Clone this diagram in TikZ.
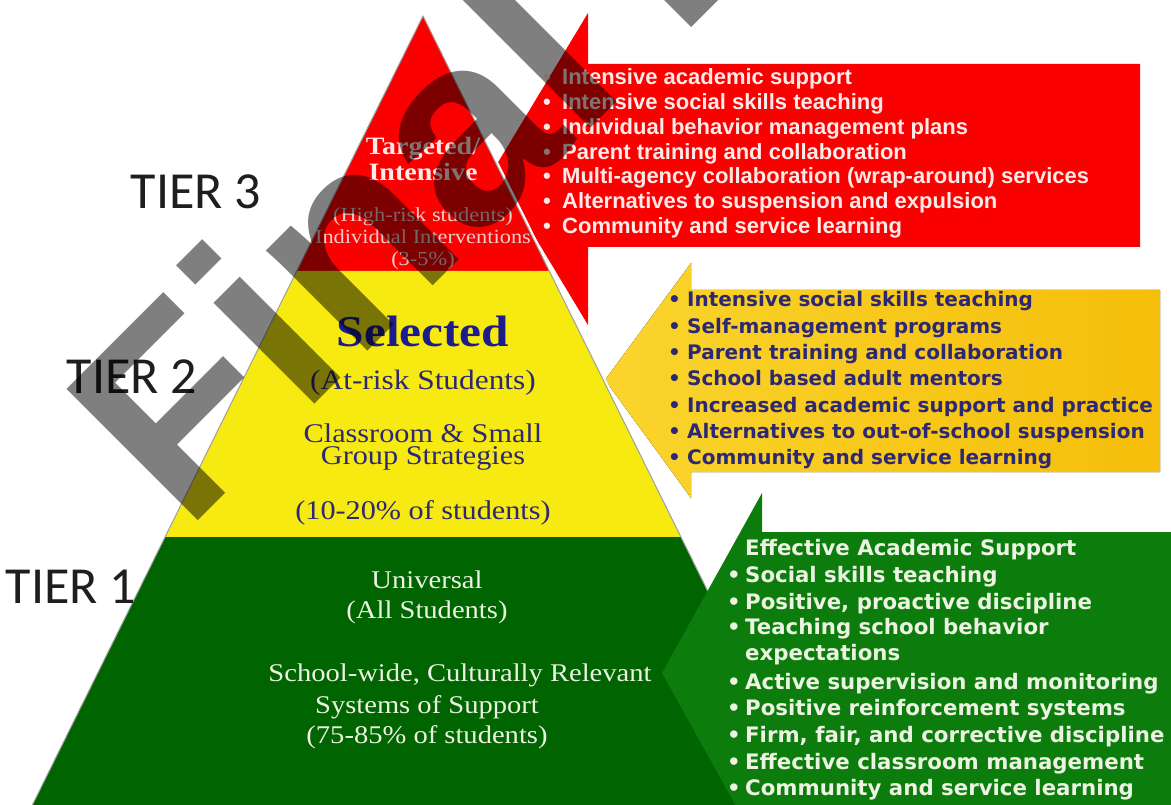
\documentclass[tikz,border=0pt]{standalone}
\usepackage{fontspec}
\setmainfont{Liberation Serif}
\newfontfamily\pyrfont{Liberation Serif}[FakeStretch=1.12]
\newfontfamily\arialfont{Liberation Sans}
\newfontfamily\verdfont{DejaVu Sans}
\newfontfamily\tierfont{Carlito}
\definecolor{pred}{RGB}{250,0,0}
\definecolor{pyel}{RGB}{246,234,16}
\definecolor{pgrn}{RGB}{0,100,0}
\definecolor{ared}{RGB}{250,0,0}
\definecolor{ayelL}{RGB}{250,212,45}
\definecolor{ayelR}{RGB}{245,190,10}
\definecolor{agrn}{RGB}{12,125,12}
\definecolor{navy}{RGB}{28,28,140}
\definecolor{navytxt}{RGB}{45,40,115}
\definecolor{pinkw}{RGB}{255,234,234}
\definecolor{pinkg}{RGB}{238,205,205}
\definecolor{greenw}{RGB}{236,243,226}
\definecolor{tiergray}{RGB}{30,30,30}
\tikzset{
  redlist/.style={anchor=base west, inner sep=0, text=pinkw, font=\arialfont\bfseries\fontsize{22}{22}\selectfont},
  yellist/.style={anchor=base west, inner sep=0, text=navytxt, font=\verdfont\bfseries\fontsize{20}{20}\selectfont},
  grnlist/.style={anchor=base west, inner sep=0, text=greenw, font=\verdfont\bfseries\fontsize{21.3}{21.3}\selectfont},
  tierlabel/.style={anchor=base, inner sep=0, text=tiergray, font=\tierfont\fontsize{52}{52}\selectfont},
  pyrtext/.style={anchor=base, inner sep=0, font=\pyrfont\fontsize{#1}{#1}\selectfont},
  pyrbold/.style={anchor=base, inner sep=0, font=\pyrfont\bfseries\fontsize{#1}{#1}\selectfont},
  wmark/.style={rotate=45, anchor=base west, inner sep=0, text=black, text opacity=0.5, font=\arialfont\bfseries\fontsize{270}{270}\selectfont}
}
\begin{document}
\begin{tikzpicture}[x=1pt, y=-1pt]
\useasboundingbox (0,0) rectangle (1171,805);
\fill[white] (0,0) rectangle (1171,805);

% arrows behind the pyramid
\fill[ared] (588,13) -- (494,169) -- (588,325) -- (588,247) -- (1140,247) -- (1140,64) -- (588,64) -- cycle;
\fill[left color=ayelL, right color=ayelR] (691,263) -- (605,380) -- (691,498) -- (691,472) -- (1160,472) -- (1160,290) -- (691,290) -- cycle;

% pyramid
\coordinate (apex) at (423,16);
\coordinate (bl) at (32.4,805);
\coordinate (br) at (813.6,805);
\draw[white, line width=5pt, line join=round] (bl) -- (apex) -- (br);
\fill[pred] (apex) -- (549.2,271) -- (296.8,271) -- cycle;
\fill[pyel] (296.8,271) -- (549.2,271) -- (680.9,537) -- (165.1,537) -- cycle;
\fill[pgrn] (165.1,537) -- (680.9,537) -- (br) -- (bl) -- cycle;
\draw[gray!75, line width=1pt, line join=round] (bl) -- (apex) -- (br);

% green arrow (over the pyramid)
\fill[agrn] (762,493) -- (662,673) -- (762,853) -- (1200,853) -- (1200,532) -- (762,532) -- cycle;

% tier labels
\node[tierlabel] (t3) at (196,209) {TIER 3};
\node[tierlabel] (t2) at (132,393) {TIER 2};
\node[tierlabel] (t1) at (71,603) {TIER 1};

% red tier text
\node[pyrbold=25, text=pinkw] (r1) at (423,155) {Targeted/};
\node[pyrbold=25, text=pinkw] (r2) at (423,181) {Intensive};
\node[pyrtext=20, text=pinkg] (r3) at (423,222) {(High-risk students)};
\node[pyrtext=20, text=pinkg] (r4) at (423,244) {Individual Interventions};
\node[pyrtext=20, text=pinkg] (r5) at (423,266) {(3-5\%)};

% yellow tier text
\node[pyrbold=44, text=navy] (y1) at (423,347) {Selected};
\node[pyrtext=28, text=navytxt] (y2) at (423,389) {(At-risk Students)};
\node[pyrtext=27, text=navytxt] (y3) at (423,442) {Classroom \& Small};
\node[pyrtext=27, text=navytxt] (y4) at (423,464) {Group Strategies};
\node[pyrtext=27, text=navytxt] (y5) at (423,519) {(10-20\% of students)};

% green tier text
\node[pyrtext=25.5, text=greenw] (g1) at (427,588) {Universal};
\node[pyrtext=25.5, text=greenw] (g2) at (427,618) {(All Students)};
\node[pyrtext=25.5, text=greenw] (g3) at (460,681) {School-wide, Culturally Relevant};
\node[pyrtext=25.5, text=greenw] (g4) at (427,713) {Systems of Support};
\node[pyrtext=25.5, text=greenw] (g5) at (427,743) {(75-85\% of students)};

% red list
\foreach \t [count=\i, evaluate=\i as \yy using {85+24.67*(\i-1)}] in
  {Intensive academic support, Intensive social skills teaching, Individual behavior management plans, Parent training and collaboration, Multi-agency collaboration (wrap-around) services, Alternatives to suspension and expulsion, Community and service learning}
  \node[redlist] (rl\i) at (543,\yy) {\makebox[19pt][l]{•}\t};

% yellow list
\foreach \t [count=\i, evaluate=\i as \yy using {307+26.3*(\i-1)}] in
  {Intensive social skills teaching, Self-management programs, Parent training and collaboration, School based adult mentors, Increased academic support and practice, Alternatives to out-of-school suspension, Community and service learning}
  \node[yellist] (yl\i) at (668,\yy) {\makebox[19pt][l]{•}\t};

% green list
\node[grnlist] (gl1) at (745,555.5) {Effective Academic Support};
\foreach \t/\yy [count=\i from 2] in
  {Social skills teaching/582.5, {Positive, proactive discipline}/609.5, Teaching school behavior/634.5, Active supervision and monitoring/689.5, Positive reinforcement systems/715.5, {Firm, fair, and corrective discipline}/742.5, Effective classroom management/769.5, Community and service learning/795.5}
  \node[grnlist] (gl\i) at (727,\yy) {\makebox[18pt][l]{•}\t};
\node[grnlist] (glx) at (745,660.5) {expectations};

% watermark
\node[wmark] (wm) at (185,534) {Final};
\fill[black, fill opacity=0.5] (664,0) -- (691,27) -- (718,0) -- cycle;
\end{tikzpicture}
\end{document}
